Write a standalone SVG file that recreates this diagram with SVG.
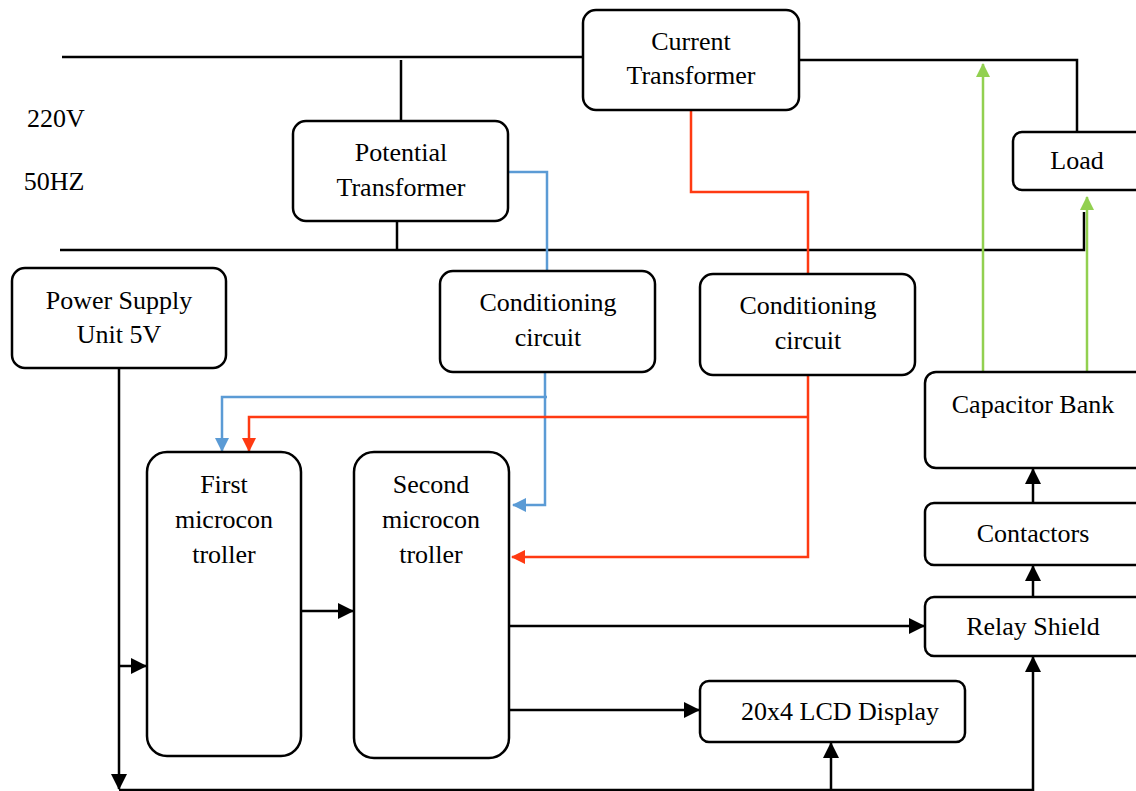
<svg xmlns="http://www.w3.org/2000/svg" width="1136" height="791" viewBox="0 0 1136 791">
<defs>
<style>
.box{fill:#fff;stroke:#000;stroke-width:2.5}
.t{font-family:"Liberation Serif","Times New Roman",serif;font-size:26px;fill:#000;text-anchor:middle}
.w{fill:none;stroke:#000;stroke-width:2.5}
.b{fill:none;stroke:#5b9bd5;stroke-width:2.5}
.r{fill:none;stroke:#ff3a12;stroke-width:2.5}
.g{fill:none;stroke:#92d050;stroke-width:2.5}
</style>
<marker id="ab" markerWidth="14" markerHeight="14" refX="13" refY="7" orient="auto" markerUnits="userSpaceOnUse" viewBox="0 0 14 14"><path d="M0,0 L14,7 L0,14 z" fill="#5b9bd5"/></marker>
<marker id="ar" markerWidth="14" markerHeight="14" refX="13" refY="7" orient="auto" markerUnits="userSpaceOnUse" viewBox="0 0 14 14"><path d="M0,0 L14,7 L0,14 z" fill="#ff3a12"/></marker>
<marker id="ag" markerWidth="14" markerHeight="14" refX="13" refY="7" orient="auto" markerUnits="userSpaceOnUse" viewBox="0 0 14 14"><path d="M0,0 L14,7 L0,14 z" fill="#92d050"/></marker>
<marker id="kk" markerWidth="16" markerHeight="16" refX="15" refY="8" orient="auto" markerUnits="userSpaceOnUse" viewBox="0 0 16 16"><path d="M0,0 L16,8 L0,16 z" fill="#000"/></marker>
</defs>
<rect width="1136" height="791" fill="#fff"/>
<g id="connectors">
<path class="w" d="M62,57 H583"/>
<path class="w" d="M799,60 H1077 V132"/>
<path class="w" d="M401,60 V121"/>
<path class="w" d="M397,221 V250"/>
<path class="w" d="M60,250 H1084 V212"/>
<path class="b" d="M508,172 H547 V271"/>
<path class="r" d="M691,110 V192 H808 V274"/>
<path class="g" d="M983,372 V64" marker-end="url(#ag)"/>
<path class="g" d="M1087,372 V197" marker-end="url(#ag)"/>
<path class="b" d="M545,372 V505 H513" marker-end="url(#ab)"/>
<path class="b" d="M547,397 H222 V451" marker-end="url(#ab)"/>
<path class="r" d="M808,375 V557 H512" marker-end="url(#ar)"/>
<path class="r" d="M808,417 H249 V451" marker-end="url(#ar)"/>
<path class="w" d="M301,611 H353" marker-end="url(#kk)"/>
<path class="w" d="M119,368 V789" marker-end="url(#kk)"/>
<path class="w" d="M119,666 H146" marker-end="url(#kk)"/>
<path class="w" d="M119,790 H1033 V657" marker-end="url(#kk)"/>
<path class="w" d="M831,790 V743" marker-end="url(#kk)"/>
<path class="w" d="M509,626 H924" marker-end="url(#kk)"/>
<path class="w" d="M509,710 H699" marker-end="url(#kk)"/>
<path class="w" d="M1033,503 V469" marker-end="url(#kk)"/>
<path class="w" d="M1033,597 V566" marker-end="url(#kk)"/>
</g>
<g id="labels">
<text class="t" x="56" y="127">220V</text>
<text class="t" x="54" y="190">50HZ</text>
</g>
<g id="current-transformer">
<rect class="box" x="583" y="10" width="216" height="100" rx="13"/>
<text class="t" x="691" y="50">Current</text>
<text class="t" x="691" y="84">Transformer</text>
</g>
<g id="potential-transformer">
<rect class="box" x="293" y="121" width="215" height="100" rx="13"/>
<text class="t" x="401" y="161">Potential</text>
<text class="t" x="401" y="196">Transformer</text>
</g>
<g id="load">
<rect class="box" x="1013" y="132" width="135" height="58" rx="9"/>
<text class="t" x="1077" y="169">Load</text>
</g>
<g id="power-supply">
<rect class="box" x="12" y="268" width="214" height="100" rx="13"/>
<text class="t" x="119" y="309">Power Supply</text>
<text class="t" x="119" y="343">Unit 5V</text>
</g>
<g id="conditioning-1">
<rect class="box" x="440" y="271" width="215" height="101" rx="13"/>
<text class="t" x="548" y="311">Conditioning</text>
<text class="t" x="548" y="346">circuit</text>
</g>
<g id="conditioning-2">
<rect class="box" x="700" y="274" width="215" height="101" rx="13"/>
<text class="t" x="808" y="314">Conditioning</text>
<text class="t" x="808" y="349">circuit</text>
</g>
<g id="capacitor-bank">
<rect class="box" x="925" y="372" width="225" height="96" rx="11"/>
<text class="t" x="1033" y="413">Capacitor Bank</text>
</g>
<g id="contactors">
<rect class="box" x="925" y="503" width="225" height="62" rx="9"/>
<text class="t" x="1033" y="542">Contactors</text>
</g>
<g id="relay-shield">
<rect class="box" x="925" y="597" width="225" height="59" rx="9"/>
<text class="t" x="1033" y="635">Relay Shield</text>
</g>
<g id="first-mcu">
<rect class="box" x="147" y="452" width="154" height="304" rx="20"/>
<text class="t" x="224" y="493">First</text>
<text class="t" x="224" y="528">microcon</text>
<text class="t" x="224" y="563">troller</text>
</g>
<g id="second-mcu">
<rect class="box" x="354" y="452" width="155" height="306" rx="20"/>
<text class="t" x="431" y="493">Second</text>
<text class="t" x="431" y="528">microcon</text>
<text class="t" x="431" y="563">troller</text>
</g>
<g id="lcd">
<rect class="box" x="700" y="681" width="265" height="61" rx="9"/>
<text class="t" x="840" y="720">20x4 LCD Display</text>
</g>
</svg>
